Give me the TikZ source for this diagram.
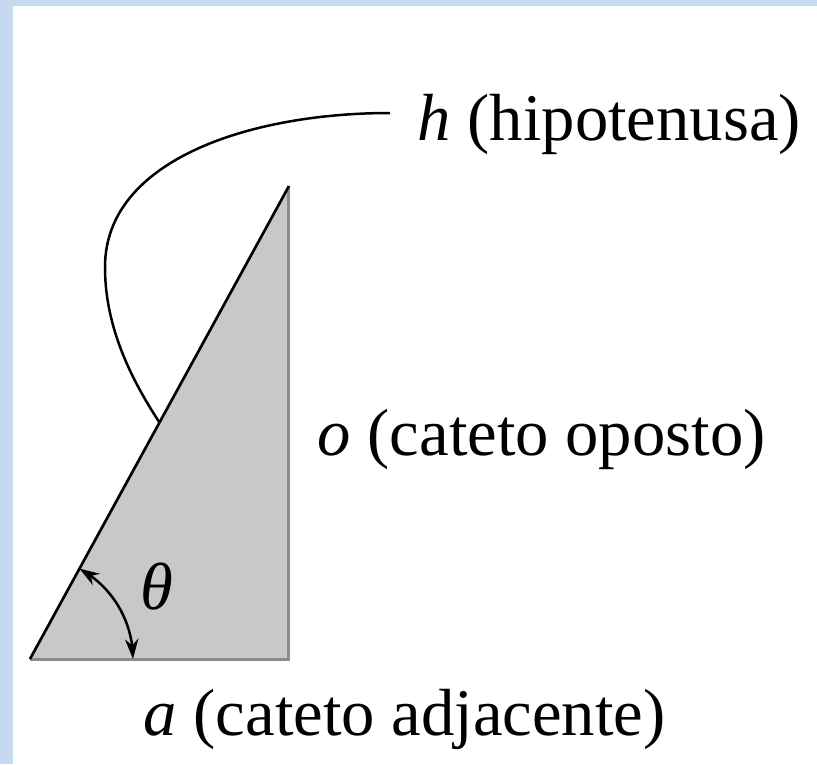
\documentclass[tikz,border=0pt]{standalone}
\usepackage{fontspec}
\setmainfont{Liberation Serif}
\usepackage{tikz}
\usetikzlibrary{arrows.meta,bending,calc}
\usepackage{xcolor}
\definecolor{frame}{HTML}{C6D9F0}
\definecolor{trifill}{HTML}{C8C8C8}
\definecolor{legc}{HTML}{8C8C8C}

\begin{document}
\begin{tikzpicture}[x=0.3pt, y=0.3pt, >={Stealth[length=6pt, width=4pt, flex]},
  lbl/.style={anchor=base west, inner sep=0pt, font=\fontsize{20}{24}\selectfont},
  hyp/.style={draw=black, line width=0.8pt},
  leg/.style={draw=legc, line width=0.9pt},
  e/.style={draw=black, line width=0.75pt}]
\useasboundingbox (0,0) rectangle (817,764);
\fill[frame] (0,0) rectangle (817,764);
\fill[white] (13,0) rectangle (817,758);
% triangle
\coordinate (A) at (30,105);
\coordinate (B) at (289,105);
\coordinate (C) at (289,578);
\fill[trifill] (A) -- (B) -- (C) -- cycle;
\draw[leg] (A) -- (B) -- (C);
\draw[hyp] (A) -- (C);
% labels
\node[lbl] (hlab) at (417,624) {\textit{h} (hipotenusa)};
\node[lbl] (olab) at (317,309) {\textit{o} (cateto oposto)};
\node[lbl] (alab) at (143,29) {\textit{a} (cateto adjacente)};
\node[lbl] (th) at (140,155) {\textit{θ}};
% hypotenuse pointer
\coordinate (hp) at ($(A)!0.5!(C)$);
\coordinate (hend) at (390,651);
\draw[e] (hp) .. controls (125,394) and (105,444) .. (105,497)
  .. controls (105,604) and (250,651) .. (hend);
% angle
\draw[e, <->] ([shift={(61.3:103)}]A) arc[start angle=61.3, end angle=0, radius=103];
\end{tikzpicture}
\end{document}
